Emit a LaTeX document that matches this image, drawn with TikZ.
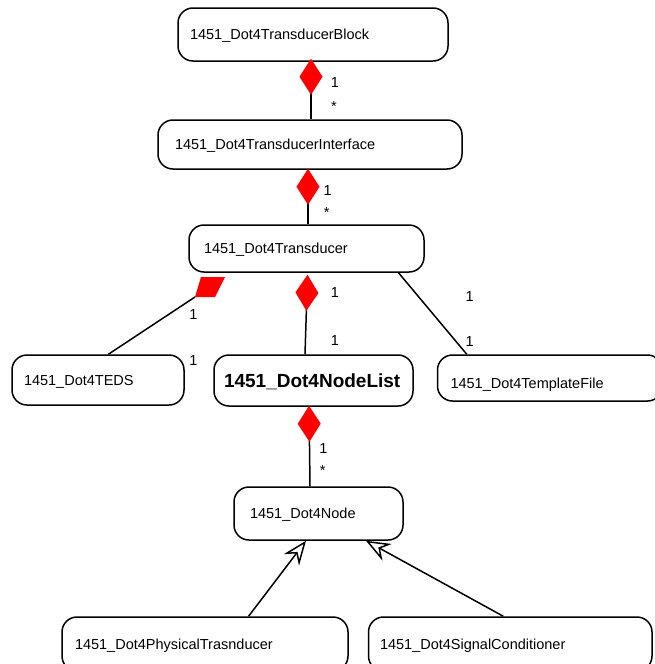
\documentclass[tikz,border=0pt]{standalone}
\usepackage{fontspec}
\setmainfont{Liberation Sans}
\usetikzlibrary{arrows.meta}

\begin{document}
\begin{tikzpicture}[x=1pt,y=-1pt,line width=1.5pt,
  every node/.style={font=\fontsize{14.5}{16}\selectfont},
  cls/.style={draw,rounded corners=15pt,fill=white,align=left,inner ysep=0pt,text depth=0pt},
  agg/.style={{Diamond[length=36pt,width=23pt,red,fill=red]}-},
  gen/.style={-{Stealth[open,length=24pt,width=19pt,inset=8pt,fill=white]}},
  mult/.style={anchor=base,inner sep=0pt}]
\useasboundingbox[fill=white] (0,0) rectangle (655,664);
% classes
\node[cls,minimum height=53pt,text width=246pt,inner xsep=12pt] (blk) at (313,34.5) {1451\_Dot4TransducerBlock};
\node[cls,minimum height=49pt,text width=270pt,inner xsep=17pt] (ifc) at (310,144.5) {1451\_Dot4TransducerInterface};
\node[cls,minimum height=47pt,text width=205pt,inner xsep=15pt] (trd) at (306.5,248.5) {1451\_Dot4Transducer};
\node[cls,minimum height=50pt,text width=148pt,inner xsep=12pt] (teds) at (98,380) {1451\_Dot4TEDS};
\node[cls,minimum height=51pt,text width=179pt,inner xsep=10pt,font=\fontsize{19}{20}\selectfont\bfseries] (nlist) at (313.5,380.5) {1451\_Dot4NodeList};
\node[cls,minimum height=46pt,text width=199pt,inner xsep=13pt,text height=20pt] (tmpl) at (550,378) {1451\_Dot4TemplateFile};
\node[cls,minimum height=53pt,text width=137pt,inner xsep=16pt] (dnode) at (318.5,513.5) {1451\_Dot4Node};
\node[cls,minimum height=54pt,text width=260pt,inner xsep=13pt] (phys) at (205,644) {1451\_Dot4PhysicalTrasnducer};
\node[cls,minimum height=54pt,text width=260.5pt,inner xsep=11.5pt] (sig) at (510.25,644) {1451\_Dot4SignalConditioner};
% aggregations
\draw[agg] ([xshift=-2pt,yshift=3pt]blk.south) -- ([xshift=1pt]ifc.north);
\draw[agg] ([xshift=-2pt,yshift=1pt]ifc.south) -- ([xshift=1.5pt]trd.north);
\draw[agg] ([xshift=1pt,yshift=-2pt]trd.south) -- ([xshift=-8.5pt]nlist.north);
\draw[agg] ([xshift=-4.5pt,yshift=1pt]nlist.south) -- ([xshift=-8.5pt]dnode.north);
\coordinate (tedsagg) at (195,297);
\fill[red] (tedsagg) -- ++(6,-20) -- ++(24,0) -- ++(-10,20) -- cycle;
\draw (tedsagg) -- (teds.68);
\draw ([xshift=92pt]trd.south) -- ([xshift=30pt]tmpl.north west);
% generalizations
\draw[gen] ([xshift=43.6pt]phys.north) -- ([xshift=-12.5pt]dnode.south);
\draw[gen] ([xshift=-7pt]sig.north) -- ([xshift=47.5pt]dnode.south);
% multiplicities
\node[mult] (m1) at (335,87.5) {1};
\node[mult] (m2) at (334,111) {*};
\node[mult] (m3) at (327.7,195.5) {1};
\node[mult] (m4) at (326.7,217) {*};
\node[mult] (m5) at (193.3,319) {1};
\node[mult] (m6) at (193.3,365) {1};
\node[mult] (m7) at (335,297.3) {1};
\node[mult] (m8) at (335,345) {1};
\node[mult] (m9) at (469.7,301) {1};
\node[mult] (m10) at (469.7,346.7) {1};
\node[mult] (m11) at (323.3,453) {1};
\node[mult] (m12) at (322.7,475) {*};
\end{tikzpicture}
\end{document}
